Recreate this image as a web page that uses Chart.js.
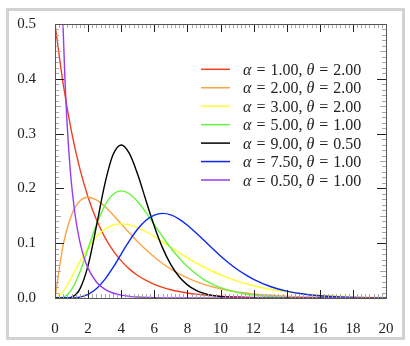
<!DOCTYPE html>
<html>
<head>
<meta charset="utf-8">
<script src="https://cdn.jsdelivr.net/npm/chart.js@4"></script>
<style>
  html, body { margin: 0; padding: 0; background: #fff; }
  #frame { position: absolute; left: 6px; top: 8px; width: 399px; height: 332px; border: 3px solid #d2d2d2; box-sizing: border-box; }
  #wrap { position: absolute; left: 0; top: 0; width: 410px; height: 346px; }
</style>
</head>
<body>
<div id="frame"></div>
<div id="wrap"><canvas id="gamma" width="410" height="346"></canvas></div>
<script>
// gamma densities, sampled on a shared x grid (purple curve has its own)
var xGrid = [0, 0.5, 1, 1.5, 2, 2.5, 3, 3.5, 4, 4.5, 5, 5.5, 6, 6.5, 7, 7.5, 8, 8.5, 9, 9.5, 10, 10.5, 11, 11.5, 12,
  13, 14, 15, 16, 17, 18, 19, 20];

var redY = [0.5, 0.3894, 0.3033, 0.2362, 0.1839, 0.1433, 0.1116, 0.0869, 0.0677, 0.0527, 0.0410, 0.0320, 0.0249,
  0.0194, 0.0151, 0.0118, 0.0092, 0.0071, 0.0056, 0.0043, 0.0034, 0.0026, 0.0020, 0.0016, 0.0012,
  0.00075, 0.00046, 0.00028, 0.00017, 0.0001, 0.00006, 0.00004, 0.00002];
var orangeY = [0, 0.0974, 0.1516, 0.1771, 0.1839, 0.1791, 0.1673, 0.1520, 0.1353, 0.1186, 0.1026, 0.0879, 0.0747,
  0.0630, 0.0528, 0.0441, 0.0366, 0.0303, 0.0250, 0.0205, 0.0168, 0.0138, 0.0112, 0.0092, 0.0074,
  0.0049, 0.0032, 0.0021, 0.0013, 0.00086, 0.00056, 0.00036, 0.00023];
var yellowY = [0, 0.0122, 0.0379, 0.0664, 0.0920, 0.1119, 0.1255, 0.1330, 0.1353, 0.1334, 0.1283, 0.1209, 0.1120,
  0.1024, 0.0925, 0.0827, 0.0733, 0.0644, 0.0562, 0.0488, 0.0421, 0.0362, 0.0309, 0.0263, 0.0223,
  0.0159, 0.0112, 0.0078, 0.0054, 0.0037, 0.0025, 0.0017, 0.0011];
var greenY = [0, 0.0016, 0.0153, 0.0471, 0.0902, 0.1336, 0.1680, 0.1888, 0.1954, 0.1898, 0.1755, 0.1558, 0.1339,
  0.1118, 0.0912, 0.0729, 0.0573, 0.0443, 0.0337, 0.0254, 0.0189, 0.0140, 0.0102, 0.0074, 0.0053,
  0.0027, 0.0013, 0.00065, 0.00031, 0.00014, 0.00007, 0.00003, 0.00001];
var blackY = [0, 0.00002, 0.0017, 0.0162, 0.0595, 0.1306, 0.2065, 0.2608, 0.2792, 0.2635, 0.2252, 0.1776, 0.1311,
  0.0915, 0.0609, 0.0389, 0.0240, 0.0143, 0.0083, 0.0047, 0.0026, 0.0014, 0.0008, 0.0004, 0.0002,
  0.00005, 0.00001, 0, 0, 0, 0, 0, 0];
var blueY = [0, 0.000004, 0.0002, 0.0017, 0.0066, 0.0169, 0.0336, 0.0555, 0.0802, 0.1046, 0.1258, 0.1418, 0.1514,
  0.1545, 0.1517, 0.1441, 0.1329, 0.1196, 0.1052, 0.0906, 0.0767, 0.0639, 0.0524, 0.0425, 0.0340,
  0.0210, 0.0125, 0.0072, 0.0040, 0.0022, 0.0012, 0.0006, 0.0003];

var purpleX = [0.35, 0.4, 0.45, 0.5, 0.6, 0.7, 0.8, 0.9, 1, 1.25, 1.5, 1.75, 2, 2.5, 3, 3.5, 4, 4.5, 5,
  6, 7, 8, 10, 12, 14, 16, 18, 20];
var purpleY = [0.6720, 0.5980, 0.5363, 0.4839, 0.3997, 0.3349, 0.2834, 0.2418, 0.2076, 0.1446, 0.1028, 0.0741,
  0.0540, 0.0293, 0.0162, 0.0091, 0.0052, 0.0030, 0.0017, 0.0006, 0.0002, 0.00007, 0.00001, 0, 0, 0, 0, 0];

var alphas = ['1.00', '2.00', '3.00', '5.00', '9.00', '7.50', '0.50'];
var thetas = ['2.00', '2.00', '2.00', '1.00', '0.50', '1.00', '1.00'];
var colors = ['rgb(240,64,32)', 'rgb(250,165,70)', 'rgb(255,255,40)', 'rgb(100,245,60)',
  'rgb(0,0,0)', 'rgb(10,40,240)', 'rgb(150,60,240)'];

var xTickLabels = ['0', '2', '4', '6', '8', '10', '12', '14', '16', '18', '20'];
var yTickLabels = ['0.0', '0.1', '0.2', '0.3', '0.4', '0.5'];

var serif = '"Liberation Serif", "Times New Roman", serif';

function points(xs, ys) {
  return xs.map(function (x, i) { return { x: x, y: ys[i] }; });
}

var seriesY = [redY, orangeY, yellowY, greenY, blackY, blueY, purpleY];
var datasets = seriesY.map(function (ys, i) {
  var xs = ys === purpleY ? purpleX : xGrid;
  return {
    label: 'α = ' + alphas[i] + ', θ = ' + thetas[i],
    alpha: alphas[i],
    theta: thetas[i],
    data: points(xs, ys),
    borderColor: colors[i],
    borderWidth: 1.4,
    pointRadius: 0,
    fill: false,
    cubicInterpolationMode: 'monotone',
    order: seriesY.length - i
  };
});

// inward ticks on all four sides plus the box
var frameTicks = {
  id: 'frameTicks',
  afterDatasetsDraw: function (chart) {
    var ctx = chart.ctx, a = chart.chartArea, sx = chart.scales.x, sy = chart.scales.y;
    var i, px, py, len;
    ctx.save();
    ctx.lineWidth = 1;

    ctx.strokeStyle = '#a8a8a8';
    ctx.beginPath();
    for (i = 1; i < 80; i++) {
      if (i % 8 === 0) continue;
      px = Math.round(sx.getPixelForValue(i * 0.25)) + 0.5;
      ctx.moveTo(px, a.bottom); ctx.lineTo(px, a.bottom - 4);
      ctx.moveTo(px, a.top); ctx.lineTo(px, a.top + 4);
    }
    for (i = 1; i < 50; i++) {
      if (i % 10 === 0) continue;
      py = Math.round(sy.getPixelForValue(i * 0.01)) + 0.5;
      len = i % 5 === 0 ? 6 : 4;
      ctx.moveTo(a.left, py); ctx.lineTo(a.left + len, py);
      ctx.moveTo(a.right, py); ctx.lineTo(a.right - len, py);
    }
    ctx.stroke();

    ctx.strokeStyle = '#222';
    ctx.beginPath();
    for (i = 1; i < 10; i++) {
      px = Math.round(sx.getPixelForValue(i * 2)) + 0.5;
      ctx.moveTo(px, a.bottom); ctx.lineTo(px, a.bottom - 8);
      ctx.moveTo(px, a.top); ctx.lineTo(px, a.top + 8);
    }
    for (i = 1; i < 5; i++) {
      py = Math.round(sy.getPixelForValue(i * 0.1)) + 0.5;
      ctx.moveTo(a.left, py); ctx.lineTo(a.left + 9, py);
      ctx.moveTo(a.right, py); ctx.lineTo(a.right - 9, py);
    }
    ctx.stroke();

    ctx.strokeStyle = '#555';
    ctx.strokeRect(Math.round(a.left) + 0.5, Math.round(a.top) + 0.5,
      Math.round(a.right - a.left), Math.round(a.bottom - a.top));
    ctx.restore();
  }
};

// legend with italic greek letters, drawn inside the plot
var mathLegend = {
  id: 'mathLegend',
  afterDatasetsDraw: function (chart) {
    var ctx = chart.ctx, a = chart.chartArea;
    var x0 = a.left + 146, y0 = a.top + 45.3, step = 18.45;
    var upright = '16px ' + serif, italic = 'italic 16px ' + serif;
    ctx.save();
    ctx.fillStyle = '#222';
    ctx.textBaseline = 'alphabetic';
    chart.data.datasets.forEach(function (ds, i) {
      var yy = y0 + i * step;
      ctx.strokeStyle = ds.borderColor;
      ctx.lineWidth = 1.5;
      ctx.beginPath();
      ctx.moveTo(x0, yy);
      ctx.lineTo(x0 + 29, yy);
      ctx.stroke();

      var parts = [
        [italic, 'α', 5], [upright, '=', 5], [upright, ds.alpha + ',', 4],
        [italic, 'θ', 5], [upright, '=', 5], [upright, ds.theta, 0]
      ];
      var tx = x0 + 42, by = yy + 5.5;
      parts.forEach(function (p) {
        ctx.font = p[0];
        ctx.fillText(p[1], tx, by);
        tx += ctx.measureText(p[1]).width + p[2];
      });
    });
    ctx.restore();
  }
};

new Chart(document.getElementById('gamma'), {
  type: 'line',
  data: { datasets: datasets },
  plugins: [frameTicks, mathLegend],
  options: {
    responsive: false,
    animation: false,
    devicePixelRatio: 1,
    layout: { padding: { left: 0, right: 24, top: 24, bottom: 0 } },
    plugins: { legend: { display: false }, tooltip: { enabled: false } },
    scales: {
      x: {
        type: 'linear',
        min: 0,
        max: 20,
        grid: { display: false },
        border: { display: false },
        ticks: {
          stepSize: 2,
          padding: 14,
          color: '#222',
          font: { family: serif, size: 15 },
          callback: function (v) { return xTickLabels[Math.round(v / 2)]; }
        },
        afterFit: function (s) { s.height = 48; }
      },
      y: {
        type: 'linear',
        min: 0,
        max: 0.5,
        grid: { display: false },
        border: { display: false },
        ticks: {
          stepSize: 0.1,
          padding: 11,
          color: '#222',
          font: { family: serif, size: 15 },
          callback: function (v) { return yTickLabels[Math.round(v * 10)]; }
        },
        afterFit: function (s) { s.width = 55; }
      }
    }
  }
});
</script>
</body>
</html>
